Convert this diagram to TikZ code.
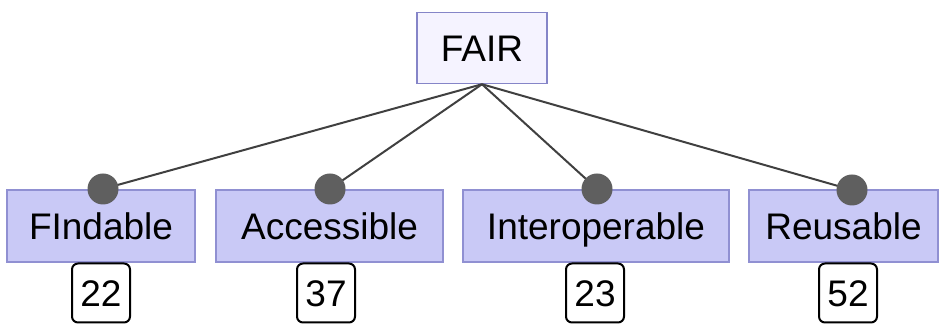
\documentclass[tikz,border=0pt]{standalone}
\usepackage{fontspec}
\setmainfont{Liberation Sans}
\definecolor{topfill}{HTML}{F5F3FF}
\definecolor{topedge}{HTML}{8585C8}
\definecolor{leaffill}{HTML}{C9C9F6}
\definecolor{leafedge}{HTML}{9090D2}
\definecolor{linkgray}{HTML}{404040}
\definecolor{dotgray}{HTML}{5F5F5F}
\begin{document}
\begin{tikzpicture}[x=0.5pt,y=-0.5pt,
  lbl/.style={font=\fontsize{18.5pt}{20pt}\selectfont, inner sep=0pt, text height=13.3pt, text depth=0pt},
  rootbox/.style={lbl, draw=topedge, fill=topfill, line width=0.75pt, minimum width=65pt, minimum height=35.5pt},
  leafbox/.style={lbl, draw=leafedge, fill=leaffill, line width=0.75pt, minimum height=36pt},
  countbox/.style={lbl, draw=black, fill=white, line width=1pt, rounded corners=3pt, minimum width=29pt, minimum height=29.5pt},
  link/.style={draw=linkgray, line width=1pt},
  knob/.style={circle, fill=dotgray, inner sep=0pt, minimum size=15.5pt}
]
\useasboundingbox (0,0) rectangle (940,324);

% root
\node[rootbox] (fair) at (482,48) {FAIR};

% principle boxes
\node[leafbox, minimum width=94pt]  (find) at (101,226)   {FIndable};
\node[leafbox, minimum width=113.5pt] (acc) at (329.5,226) {Accessible};
\node[leafbox, minimum width=133pt] (inter) at (596,226) {Interoperable};
\node[leafbox, minimum width=94.5pt] (reuse) at (843.5,226) {Reusable};

% counts
\node[countbox] (n1) at (101,293)  {22};
\node[countbox] (n2) at (326,293)  {37};
\node[countbox] (n3) at (595,293)  {23};
\node[countbox] (n4) at (848,293)  {52};

% connection knobs on the top edge of each box
\coordinate (k1) at (103,189);
\coordinate (k2) at (330,189);
\coordinate (k3) at (597,189);
\coordinate (k4) at (852,190);

\foreach \k in {k1,k2,k3,k4} \draw[link] (fair.south) -- (\k);
\foreach \k in {k1,k2,k3,k4} \node[knob] at (\k) {};
\end{tikzpicture}
\end{document}
